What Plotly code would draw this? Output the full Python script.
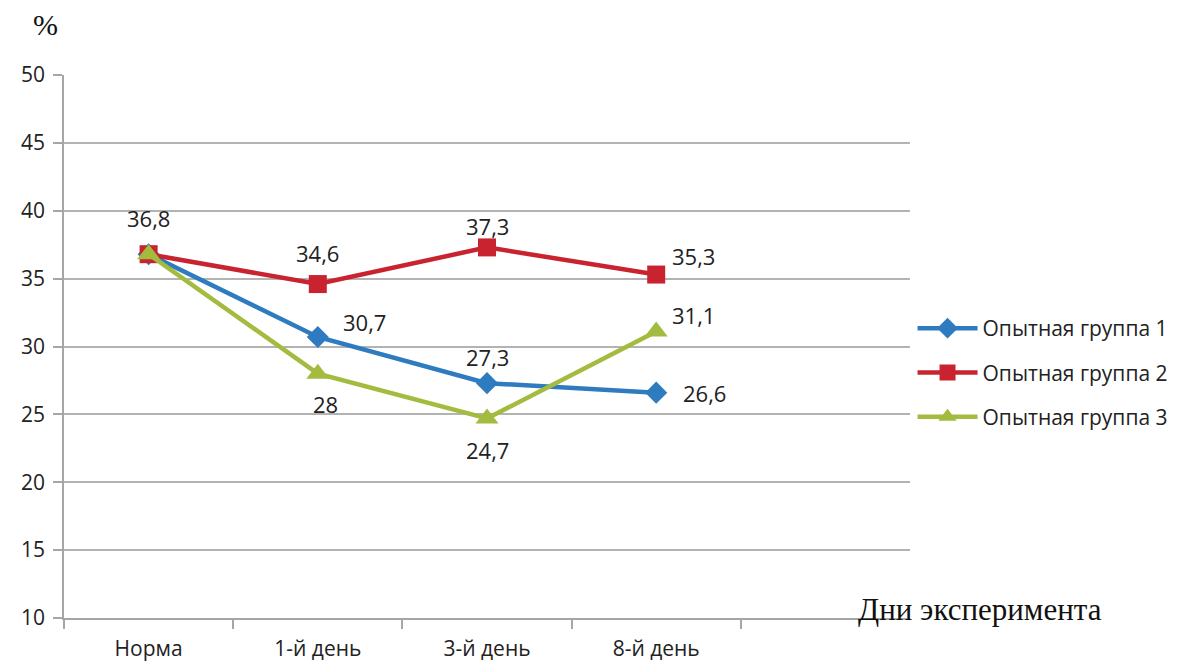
import plotly.graph_objects as go

categories = ["Норма", "1-й день", "3-й день", "8-й день"]
group1 = [36.8, 30.7, 27.3, 26.6]
group2 = [36.8, 34.6, 37.3, 35.3]
group3 = [36.8, 28.0, 24.7, 31.1]
names = ["Опытная группа 1", "Опытная группа 2", "Опытная группа 3"]
colors = ["#2E7BC0", "#C8232F", "#A3BC3F"]
symbols = ["diamond", "square", "triangle-up"]
msizes = [17, 18, 20]

# label offsets (px) per series per point
offsets = [
    [None, (47, 15), (0, 26), (48, 0)],
    [(0, 36), (0, 31), (0, 21), (37, 19)],
    [None, (8, -30), (0, -32), (37, 17)],
]

xs = list(range(len(categories)))
series = [group1, group2, group3]
SANS = "Open Sans, Noto Sans, sans-serif"
SERIF = "Liberation Serif, DejaVu Serif, serif"

fig = go.Figure()
for i, (vals, name) in enumerate(zip(series, names)):
    fig.add_trace(go.Scatter(
        x=xs, y=vals, name=name, mode="lines+markers",
        line=dict(color=colors[i], width=4.5),
        marker=dict(symbol=symbols[i], size=msizes[i], color=colors[i]),
        legendgroup=str(i),
    ))

def fmt(v):
    s = f"{v:.1f}".replace(".", ",")
    return s[:-2] if s.endswith(",0") else s

annotations = []
for i, vals in enumerate(series):
    for j, v in enumerate(vals):
        off = offsets[i][j]
        if off is None:
            continue
        annotations.append(dict(
            x=xs[j], y=v, xref="x", yref="y", text=fmt(v), showarrow=False,
            xshift=off[0], yshift=off[1],
            font=dict(family=SANS, size=22, color="#222222"),
        ))

annotations.append(dict(
    x=1.083, y=0.015, xref="paper", yref="paper", text="Дни эксперимента",
    showarrow=False, xanchor="center", yanchor="middle",
    font=dict(family=SERIF, size=31, color="#111111"),
))
annotations.append(dict(
    x=-0.022, y=1.093, xref="paper", yref="paper", text="%",
    showarrow=False, xanchor="center", yanchor="middle",
    font=dict(family=SERIF, size=30, color="#111111"),
))

# helper trace for the secondary x axis (category labels)
fig.add_trace(go.Scatter(x=xs, y=group1, xaxis="x2", showlegend=False,
                         mode="markers", marker=dict(opacity=0), hoverinfo="skip"))

fig.update_layout(
    width=1179, height=661,
    margin=dict(l=64, r=269, t=75, b=43, autoexpand=False),
    plot_bgcolor="white", paper_bgcolor="white",
    showlegend=True,
    legend=dict(x=1.003, y=0.452, xanchor="left", yanchor="middle",
                font=dict(family=SANS, size=21, color="#222222"),
                tracegroupgap=14, itemwidth=60, bgcolor="rgba(0,0,0,0)"),
    xaxis=dict(range=[-0.5, 4.5], tickmode="array",
               tickvals=[-0.5, 0.5, 1.5, 2.5, 3.5],
               ticktext=["", "", "", "", ""],
               ticks="outside", ticklen=9, tickcolor="#A6A6A6", tickwidth=1.5,
               showline=True, linecolor="#A6A6A6", linewidth=2,
               showgrid=False, zeroline=False, automargin=False),
    xaxis2=dict(range=[-0.5, 4.5], overlaying="x", side="bottom", anchor="y",
                tickmode="array", tickvals=xs, ticktext=categories,
                ticks="", showline=False, showgrid=False, zeroline=False,
                ticklabelstandoff=16, automargin=False,
                tickfont=dict(family=SANS, size=21, color="#222222")),
    yaxis=dict(range=[10, 50], tickmode="array", tickvals=list(range(10, 51, 5)),
               ticks="outside", ticklen=9, tickcolor="#A6A6A6", tickwidth=1.5,
               showline=True, linecolor="#A6A6A6", linewidth=1.5,
               showgrid=True, gridcolor="#B3B3B3", gridwidth=1.5, zeroline=False,
               ticklabelstandoff=4, automargin=False,
               tickfont=dict(family=SANS, size=21, color="#222222")),
    annotations=annotations,
)

fig.write_html("out.html")
